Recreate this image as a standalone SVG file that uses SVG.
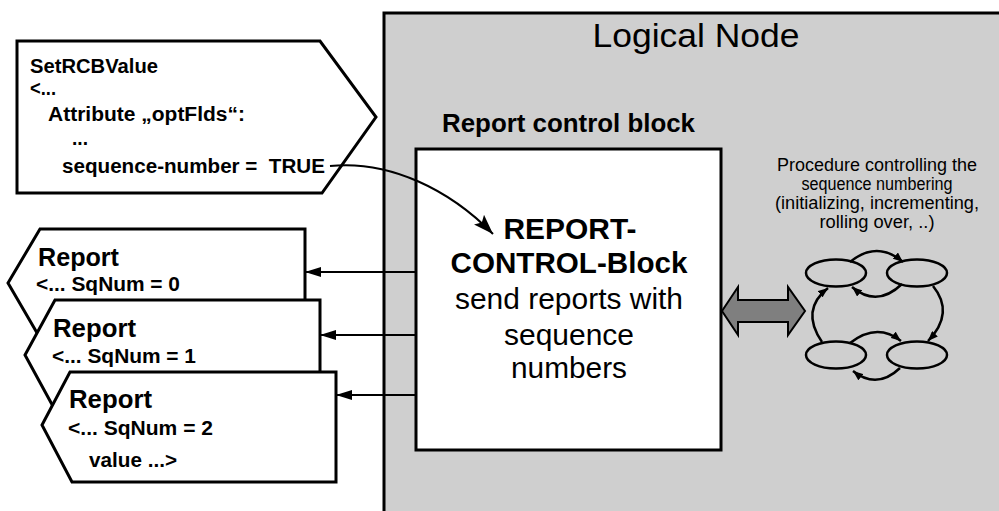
<svg xmlns="http://www.w3.org/2000/svg" width="999" height="511" viewBox="0 0 999 511">
<defs>
<style>
.b{font-family:"Liberation Sans",Arial,sans-serif;font-weight:bold;fill:#000}
.r{font-family:"Liberation Sans",Arial,sans-serif;font-weight:normal;fill:#000}
.shape{fill:#fff;stroke:#000;stroke-width:3;stroke-linejoin:miter}
.conn{fill:none;stroke:#000;stroke-width:2}
.cyc{fill:none;stroke:#000;stroke-width:2.5}
</style>
<marker id="aS" markerUnits="userSpaceOnUse" markerWidth="16" markerHeight="10" refX="16" refY="5" orient="auto"><path d="M0,0 L16,5 L0,10 z" fill="#000"/></marker>
<marker id="aL" markerUnits="userSpaceOnUse" markerWidth="20" markerHeight="14" refX="20" refY="7" orient="auto"><path d="M0,0 L20,7 L0,14 L4,7 z" fill="#000"/></marker>
<marker id="aT" markerUnits="userSpaceOnUse" markerWidth="10" markerHeight="8" refX="10" refY="4" orient="auto"><path d="M0,0 L10,4 L0,8 z" fill="#000"/></marker>
</defs>
<rect x="0" y="0" width="999" height="511" fill="#fff"/>

<g id="logical-node">
<rect x="384" y="13" width="640" height="520" fill="#cfcfcf" stroke="#000" stroke-width="3"/>
<text class="r" x="696" y="47" font-size="34" text-anchor="middle" textLength="207" lengthAdjust="spacingAndGlyphs">Logical Node</text>
<text class="b" x="442" y="132" font-size="25" textLength="253" lengthAdjust="spacingAndGlyphs">Report control block</text>
</g>

<g id="rcb">
<rect x="416" y="149" width="305" height="301" fill="#fff" stroke="#000" stroke-width="3"/>
<text class="b" x="570" y="239" font-size="29" text-anchor="middle" textLength="133" lengthAdjust="spacingAndGlyphs">REPORT-</text>
<text class="b" x="569" y="273" font-size="29" text-anchor="middle" textLength="237" lengthAdjust="spacingAndGlyphs">CONTROL-Block</text>
<text class="r" x="569" y="309" font-size="29" text-anchor="middle" textLength="228" lengthAdjust="spacingAndGlyphs">send reports with</text>
<text class="r" x="569" y="345" font-size="29" text-anchor="middle" textLength="130" lengthAdjust="spacingAndGlyphs">sequence</text>
<text class="r" x="569" y="378" font-size="29" text-anchor="middle" textLength="116" lengthAdjust="spacingAndGlyphs">numbers</text>
</g>

<g id="procedure-text">
<text class="r" x="877" y="171" font-size="17.5" text-anchor="middle" textLength="200" lengthAdjust="spacingAndGlyphs">Procedure controlling the</text>
<text class="r" x="877" y="190" font-size="17.5" text-anchor="middle" textLength="151" lengthAdjust="spacingAndGlyphs">sequence numbering</text>
<text class="r" x="877" y="209" font-size="17.5" text-anchor="middle" textLength="204" lengthAdjust="spacingAndGlyphs">(initializing, incrementing,</text>
<text class="r" x="877" y="228" font-size="17.5" text-anchor="middle" textLength="115" lengthAdjust="spacingAndGlyphs">rolling over, ..)</text>
</g>

<g id="cycle">
<ellipse class="cyc" cx="836" cy="273" rx="30" ry="13.5"/>
<ellipse class="cyc" cx="917" cy="273" rx="30" ry="13.5"/>
<ellipse class="cyc" cx="836" cy="355" rx="30" ry="13.5"/>
<ellipse class="cyc" cx="917" cy="355" rx="30" ry="13.5"/>
</g>

<g id="connectors">
<line class="conn" x1="416" y1="272" x2="305" y2="272" marker-end="url(#aS)"/>
<line class="conn" x1="416" y1="335" x2="320" y2="335" marker-end="url(#aS)"/>
<line class="conn" x1="416" y1="395" x2="336" y2="395" marker-end="url(#aS)"/>
<polygon points="722,311 738,287 738,300 788,300 788,287 805,311 788,335 788,322 738,322 738,335" fill="#7f7f7f" stroke="#000" stroke-width="2" stroke-linejoin="miter"/>
<path class="cyc" d="M850,262 Q877,240 903,262" marker-end="url(#aT)"/>
<path class="cyc" d="M902,284 Q877,308 852,287" marker-end="url(#aT)"/>
<path class="cyc" d="M822,342 Q800,310 828,288" marker-end="url(#aT)"/>
<path class="cyc" d="M933,286 Q955,313 928,341" marker-end="url(#aT)"/>
<path class="cyc" d="M850,343 Q877,322 901,341" marker-end="url(#aT)"/>
<path class="cyc" d="M900,368 Q877,390 853,371" marker-end="url(#aT)"/>
</g>

<g id="report-0">
<polygon class="shape" points="40,229 305,229 305,338 40,338 8,283"/>
<text class="b" x="38" y="266" font-size="25" textLength="81" lengthAdjust="spacingAndGlyphs">Report</text>
<text class="b" x="36" y="291" font-size="20" textLength="144" lengthAdjust="spacingAndGlyphs">&lt;... SqNum = 0</text>
</g>
<g id="report-1">
<polygon class="shape" points="55,300 320,300 320,410 55,410 25,355"/>
<text class="b" x="53" y="337" font-size="25" textLength="83" lengthAdjust="spacingAndGlyphs">Report</text>
<text class="b" x="52" y="363" font-size="20" textLength="144" lengthAdjust="spacingAndGlyphs">&lt;... SqNum = 1</text>
</g>
<g id="report-2">
<polygon class="shape" points="70,372 336,372 336,482 72,482 42,425"/>
<text class="b" x="69" y="408" font-size="25" textLength="83" lengthAdjust="spacingAndGlyphs">Report</text>
<text class="b" x="68" y="435" font-size="20" textLength="145" lengthAdjust="spacingAndGlyphs">&lt;... SqNum = 2</text>
<text class="b" x="89" y="467" font-size="20" textLength="88" lengthAdjust="spacingAndGlyphs">value ...&gt;</text>
</g>

<g id="setrcbvalue">
<polygon class="shape" points="17,41 320,41 376,117 322,193 17,193"/>
<text class="b" x="30" y="73" font-size="20" textLength="128" lengthAdjust="spacingAndGlyphs">SetRCBValue</text>
<text class="b" x="30" y="95" font-size="20" textLength="26" lengthAdjust="spacingAndGlyphs">&lt;...</text>
<text class="b" x="48" y="121" font-size="20" textLength="197" lengthAdjust="spacingAndGlyphs">Attribute „optFlds“:</text>
<text class="b" x="72" y="145" font-size="20" textLength="16" lengthAdjust="spacingAndGlyphs">...</text>
<text class="b" x="62" y="173" font-size="20" textLength="263" lengthAdjust="spacingAndGlyphs">sequence-number = &#160;TRUE</text>
</g>

<g id="connectors-curve">
<path class="conn" d="M330,166 C390,160 450,190 493,234" stroke-width="2.5" marker-end="url(#aL)"/>
</g>
</svg>
